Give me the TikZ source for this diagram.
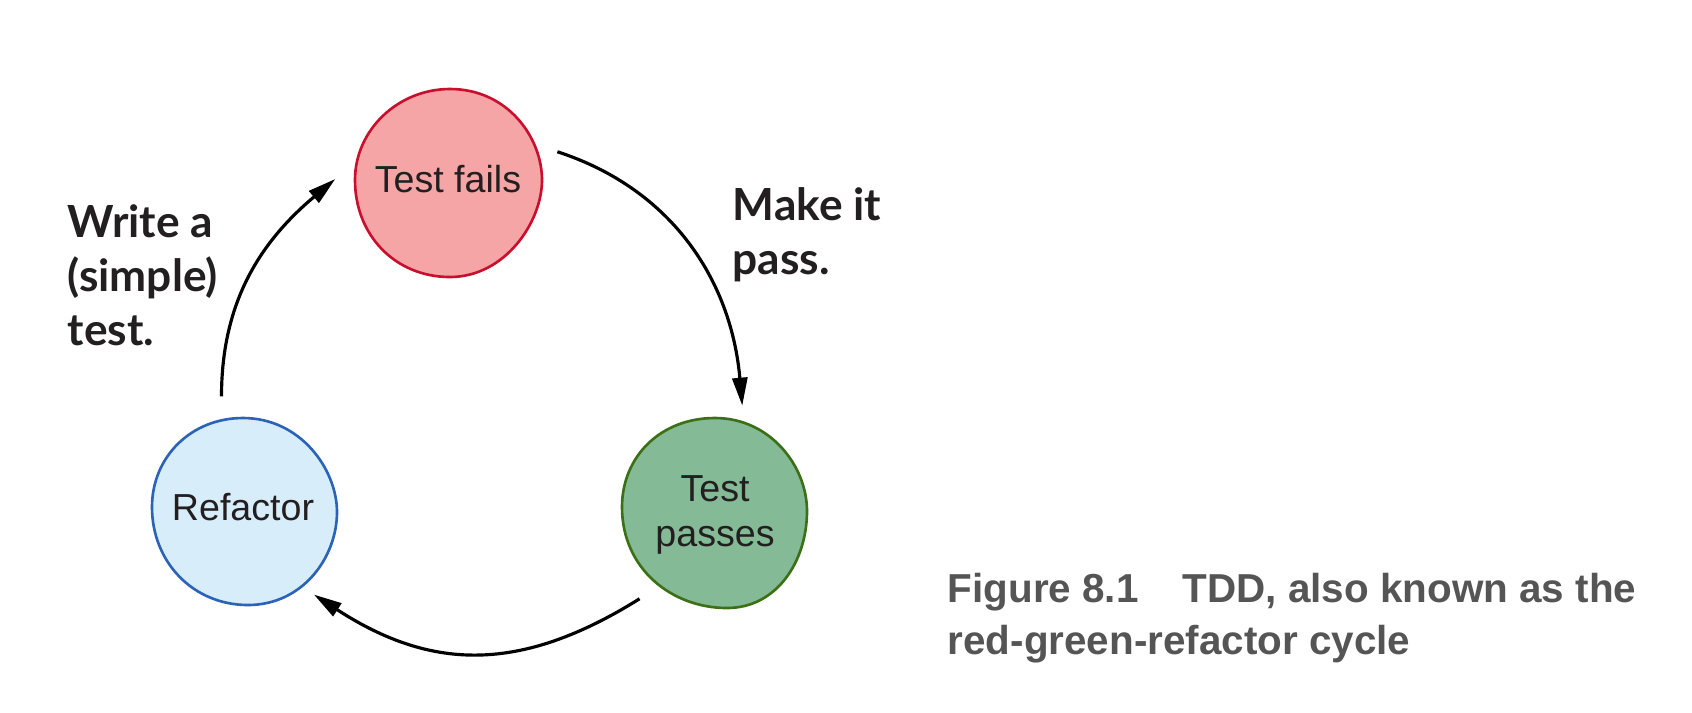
\documentclass[tikz,border=0pt]{standalone}
\usepackage{fontspec}
\setmainfont{Liberation Sans}
\newfontfamily\labelfont{Lato}
\usepackage{tikz}
\usetikzlibrary{arrows.meta, backgrounds}
\definecolor{failred}{RGB}{200,16,46}
\definecolor{failfill}{RGB}{246,165,167}
\definecolor{passgreen}{RGB}{60,112,22}
\definecolor{passfill}{RGB}{132,186,149}
\definecolor{refblue}{RGB}{42,99,184}
\definecolor{reffill}{RGB}{215,238,250}
\definecolor{capgray}{RGB}{85,85,85}
\definecolor{inkblack}{RGB}{35,31,32}

\begin{document}
\begin{tikzpicture}[
  state/.style={circle, minimum size=2.24cm, inner sep=0pt, align=center,
               font=\fontsize{10.7}{12.8}\selectfont, text=inkblack},
  blobline/.style={line width=0.75pt, line join=round},
  steplabel/.style={anchor=north west, inner sep=0pt, align=left, text=inkblack,
               font=\labelfont\bfseries\fontsize{12.6}{15.4}\selectfont},
  cycarrow/.style={-{Triangle[length=2.8mm, width=1.5mm]}, line width=0.9pt}
]
\useasboundingbox (0,0) rectangle (16.92,-7.12);
\node[state] (fail) at (4.48,-1.79) {Test fails};
\node[state] (pass) at (7.15,-5.15) {Test\\passes};
\node[state] (refac) at (2.43,-5.07) {Refactor};

% hand-drawn outlines behind the states (top, right tip, bottom, left)
\begin{scope}[on background layer]
\draw[blobline, draw=failred, fill=failfill, shift={(fail.center)}]
  (0.02,0.9) .. controls +(0.58,0) and +(0,0.42) .. (0.94,-0.01)
  .. controls +(0,-0.42) and +(0.55,0) .. (0.02,-0.98)
  .. controls +(-0.55,0) and +(0,-0.55) .. (-0.93,-0.01)
  .. controls +(0,0.5) and +(-0.52,0) .. (0.02,0.9) -- cycle;
\draw[blobline, draw=passgreen, fill=passfill, shift={(pass.center)}]
  (0.0,0.97) .. controls +(0.55,0) and +(0,0.45) .. (0.92,0.04)
  .. controls +(0,-0.5) and +(0.5,0) .. (0.12,-0.93)
  .. controls +(-0.55,0) and +(0,-0.62) .. (-0.93,0.08)
  .. controls +(0,0.5) and +(-0.55,0) .. (0.0,0.97) -- cycle;
\draw[blobline, draw=refblue, fill=reffill, shift={(refac.center)}]
  (0.0,0.89) .. controls +(0.58,0) and +(0,0.42) .. (0.94,-0.05)
  .. controls +(0,-0.45) and +(0.55,0) .. (0.05,-0.98)
  .. controls +(-0.55,0) and +(0,-0.55) .. (-0.91,0.0)
  .. controls +(0,0.5) and +(-0.52,0) .. (0.0,0.89) -- cycle;
\end{scope}

\draw[cycarrow] (fail.14) to[out=-18, in=95] (pass.76);
\draw[cycarrow] (pass.228) to[out=212, in=-33, looseness=1.1] (refac.309);
\draw[cycarrow] (refac.101) to[out=90, in=220] (fail.180);

\node[steplabel] (writetest) at (0.67,-2.04) {Write a\\(simple)\\test.};
\node[steplabel] (makepass) at (7.32,-1.87) {Make it\\pass.};
\node[anchor=north west, inner sep=0pt, align=left, text=capgray,
      font=\bfseries\fontsize{11.5}{14.8}\selectfont] (caption) at (9.47,-5.72)
  {Figure 8.1\hspace{0.44cm}TDD, also known as the\\red-green-refactor cycle};
\end{tikzpicture}
\end{document}
